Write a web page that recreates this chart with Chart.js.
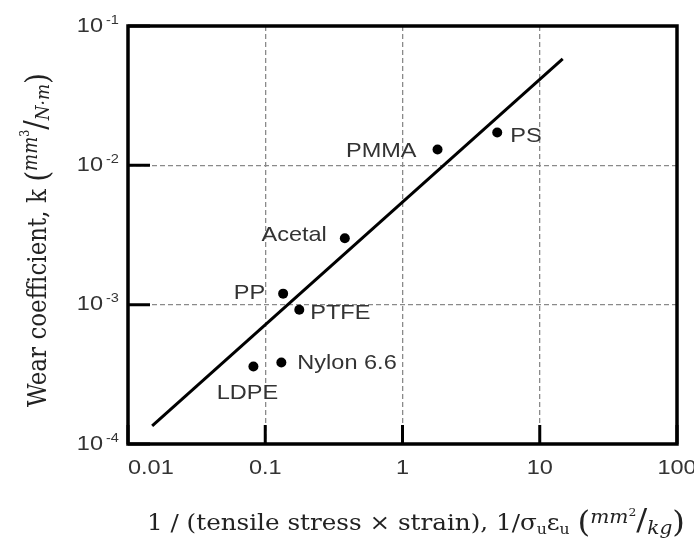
<!DOCTYPE html>
<html>
<head>
<meta charset="utf-8">
<title>Wear coefficient vs 1/(stress x strain)</title>
<script src="https://cdn.jsdelivr.net/npm/chart.js@4.4.0/dist/chart.umd.min.js"></script>
<style>
  html, body { margin: 0; padding: 0; background: #fff; }
</style>
</head>
<body>
<canvas id="chart" width="694" height="541"></canvas>
<script>
// polymers and their measured values
const materials = ['PS', 'PMMA', 'Acetal', 'PP', 'PTFE', 'Nylon 6.6', 'LDPE'];
const invStressStrain = [4.9, 1.8, 0.38, 0.135, 0.177, 0.131, 0.082];
const wearCoeff = [0.0172, 0.0130, 0.0030, 0.0012, 0.00092, 0.000385, 0.00036];

// end points of the fitted trend line
const fitX = [0.015, 14.7];
const fitY = [0.000135, 0.058];

// axis ticks
const xTicks = [0.01, 0.1, 1, 10, 100];
const xTickLabels = ['0.01', '0.1', '1', '10', '100'];
const yTicks = [1e-4, 1e-3, 1e-2, 1e-1];
const yTickExp = ['-4', '-3', '-2', '-1'];

// where each material name sits around its dot
const labelPlace = {
  'PS':        { dx: 13,  dy: 4,  align: 'left' },
  'PMMA':      { dx: -21, dy: 2,  align: 'right' },
  'Acetal':    { dx: -18, dy: -3, align: 'right' },
  'PP':        { dx: -18, dy: 0,  align: 'right' },
  'PTFE':      { dx: 11,  dy: 3,  align: 'left' },
  'Nylon 6.6': { dx: 16,  dy: 1,  align: 'left' },
  'LDPE':      { dx: -6,  dy: 27, align: 'center' }
};

const SANS = '"Liberation Sans", Arial, sans-serif';
const SERIF = '"DejaVu Serif", "Liberation Serif", serif';
const WIDEN = 1.12; // text is set a little wide

function wideText(ctx, text, x, y, align) {
  ctx.save();
  ctx.translate(x, y);
  ctx.scale(WIDEN, 1);
  ctx.textAlign = align;
  ctx.fillText(text, 0, 0);
  ctx.restore();
}

// draw a row of text pieces with their own font and vertical shift, centred on 0
function drawRuns(ctx, runs) {
  let w = 0;
  runs.forEach(r => { ctx.font = r.f; w += ctx.measureText(r.t).width; });
  let cx = -w / 2;
  ctx.textAlign = 'left';
  ctx.textBaseline = 'alphabetic';
  runs.forEach(r => {
    ctx.font = r.f;
    ctx.fillText(r.t, cx, r.dy || 0);
    cx += ctx.measureText(r.t).width;
  });
}

const framePlugin = {
  id: 'frame',
  afterDraw(chart) {
    const ctx = chart.ctx;
    const a = chart.chartArea;
    const xs = chart.scales.x, ys = chart.scales.y;
    ctx.save();

    // inward tick marks on left and bottom
    ctx.strokeStyle = '#000';
    ctx.lineWidth = 3;
    ctx.beginPath();
    yTicks.forEach(v => {
      const p = ys.getPixelForValue(v);
      ctx.moveTo(a.left, p); ctx.lineTo(a.left + 22, p);
    });
    xTicks.forEach(v => {
      const p = xs.getPixelForValue(v);
      ctx.moveTo(p, a.bottom); ctx.lineTo(p, a.bottom - 19);
    });
    ctx.stroke();

    // box round the plot
    ctx.lineWidth = 3.5;
    ctx.strokeRect(a.left, a.top, a.right - a.left, a.bottom - a.top);

    // y tick labels 10^n
    ctx.fillStyle = '#333';
    ctx.textBaseline = 'middle';
    yTicks.forEach((v, i) => {
      const p = ys.getPixelForValue(v);
      ctx.font = '21px ' + SANS;
      wideText(ctx, '10', a.left - 25, p, 'right');
      ctx.font = '13px ' + SANS;
      wideText(ctx, yTickExp[i], a.left - 22, p - 6, 'left');
    });

    // x tick labels
    ctx.font = '21px ' + SANS;
    xTicks.forEach((v, i) => {
      const p = xs.getPixelForValue(v);
      wideText(ctx, xTickLabels[i], p, a.bottom + 24, i === 0 ? 'left' : 'center');
    });

    // axis titles
    ctx.fillStyle = '#222';
    ctx.save();
    ctx.translate(416, 530);
    ctx.scale(WIDEN, 1);
    drawRuns(ctx, [
      { t: '1 / (tensile stress \u00d7 strain), 1/\u03c3', f: '22px ' + SERIF },
      { t: 'u', f: '14px ' + SERIF, dy: 4 },
      { t: '\u03b5', f: '22px ' + SERIF },
      { t: 'u', f: '14px ' + SERIF, dy: 4 },
      { t: ' ', f: '22px ' + SERIF },
      { t: '(', f: '29px ' + SERIF, dy: 2 },
      { t: 'mm', f: 'italic 18px ' + SERIF, dy: -7 },
      { t: '2', f: '11px ' + SERIF, dy: -14 },
      { t: '/', f: '29px ' + SERIF },
      { t: 'kg', f: 'italic 18px ' + SERIF, dy: 4 },
      { t: ')', f: '29px ' + SERIF, dy: 2 }
    ]);
    ctx.restore();

    ctx.save();
    ctx.translate(46, 240);
    ctx.scale(WIDEN, 1);
    ctx.rotate(-Math.PI / 2);
    drawRuns(ctx, [
      { t: 'Wear coefficient, k ', f: '23px ' + SERIF },
      { t: '(', f: '28px ' + SERIF, dy: 2 },
      { t: 'mm', f: 'italic 18px ' + SERIF, dy: -8 },
      { t: '3', f: '11px ' + SERIF, dy: -15 },
      { t: '/', f: '28px ' + SERIF },
      { t: 'N\u00b7m', f: 'italic 17px ' + SERIF, dy: 3 },
      { t: ')', f: '28px ' + SERIF, dy: 2 }
    ]);
    ctx.restore();

    ctx.restore();
  },
  afterDatasetsDraw(chart) {
    const ctx = chart.ctx;
    const xs = chart.scales.x, ys = chart.scales.y;
    ctx.save();
    ctx.font = '21px ' + SANS;
    ctx.fillStyle = '#333';
    ctx.textBaseline = 'middle';
    materials.forEach((m, i) => {
      const pl = labelPlace[m];
      wideText(ctx, m, xs.getPixelForValue(invStressStrain[i]) + pl.dx,
        ys.getPixelForValue(wearCoeff[i]) + pl.dy, pl.align);
    });
    ctx.restore();
  }
};

const points = materials.map((m, i) => ({ x: invStressStrain[i], y: wearCoeff[i] }));
const trend = fitX.map((x, i) => ({ x: x, y: fitY[i] }));

const gridOpts = { color: '#8a8a8a', lineWidth: 1.3, drawTicks: false };

new Chart(document.getElementById('chart'), {
  type: 'scatter',
  data: {
    datasets: [
      {
        data: trend,
        showLine: true,
        borderColor: '#000',
        borderWidth: 3,
        pointRadius: 0
      },
      {
        data: points,
        backgroundColor: '#000',
        borderColor: '#000',
        pointRadius: 5,
        borderWidth: 0
      }
    ]
  },
  options: {
    responsive: false,
    animation: false,
    layout: { padding: { left: 0, top: 26, right: 17, bottom: 0 } },
    plugins: { legend: { display: false }, tooltip: { enabled: false } },
    scales: {
      x: {
        type: 'logarithmic',
        min: 0.01,
        max: 100,
        ticks: { display: false },
        grid: gridOpts,
        border: { display: false, dash: [5, 3] },
        afterBuildTicks: s => { s.ticks = xTicks.map(v => ({ value: v })); },
        afterFit: s => { s.height = 97; }
      },
      y: {
        type: 'logarithmic',
        min: 1e-4,
        max: 1e-1,
        ticks: { display: false },
        grid: gridOpts,
        border: { display: false, dash: [5, 3] },
        afterBuildTicks: s => { s.ticks = yTicks.map(v => ({ value: v })); },
        afterFit: s => { s.width = 128; }
      }
    }
  },
  plugins: [framePlugin]
});
</script>
</body>
</html>
